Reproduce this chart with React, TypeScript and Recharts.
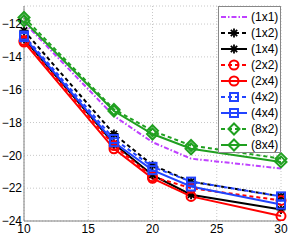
import React from 'react';
import { LineChart, Line, XAxis, YAxis, CartesianGrid } from 'recharts';

const xs = [10, 17, 20, 23, 30];
const s1x1 = [-11.9, -17.6, -19.2, -20.2, -20.8];
const s1x2 = [-12.4, -18.7, -20.6, -21.6, -22.5];
const s1x4 = [-12.9, -19.3, -21.2, -22.4, -23.3];
const s2x2 = [-13.0, -19.4, -21.3, -22.0, -22.75];
const s2x4 = [-13.1, -19.6, -21.4, -22.5, -23.7];
const s4x2 = [-12.7, -19.0, -20.7, -21.6, -22.5];
const s4x4 = [-12.8, -19.2, -20.9, -21.9, -23.0];
const s8x2 = [-11.6, -17.2, -18.5, -19.4, -20.2];
const s8x4 = [-11.8, -17.3, -18.7, -19.6, -20.4];
const xTicks = [10, 15, 20, 25, 30];
const yTicks = [-24, -22, -20, -18, -16, -14, -12];

const data = xs.map((x, i) => ({
  x,
  a: s1x1[i], b: s1x2[i], c: s1x4[i], d: s2x2[i], e: s2x4[i],
  f: s4x2[i], g: s4x4[i], h: s8x2[i], k: s8x4[i],
}));

const PURPLE = '#bf40ff';
const BLACK = '#000000';
const RED = '#ff0000';
const BLUE = '#2244ff';
const GREEN = '#20a020';

type Shape = 'none' | 'star' | 'circle' | 'square' | 'diamond';

const series: { key: string; name: string; color: string; dash?: string; shape: Shape }[] = [
  { key: 'a', name: '(1x1)', color: PURPLE, dash: '5 2 1.5 2', shape: 'none' },
  { key: 'b', name: '(1x2)', color: BLACK, dash: '4 3', shape: 'star' },
  { key: 'c', name: '(1x4)', color: BLACK, shape: 'star' },
  { key: 'd', name: '(2x2)', color: RED, dash: '4 3', shape: 'circle' },
  { key: 'e', name: '(2x4)', color: RED, shape: 'circle' },
  { key: 'f', name: '(4x2)', color: BLUE, dash: '4 3', shape: 'square' },
  { key: 'g', name: '(4x4)', color: BLUE, shape: 'square' },
  { key: 'h', name: '(8x2)', color: GREEN, dash: '4 3', shape: 'diamond' },
  { key: 'k', name: '(8x4)', color: GREEN, shape: 'diamond' },
];

function marker(shape: Shape, color: string, cx: number, cy: number, key?: string) {
  const sw = 2;
  if (shape === 'circle') {
    return <circle key={key} cx={cx} cy={cy} r={4.5} fill="none" stroke={color} strokeWidth={sw} />;
  }
  if (shape === 'square') {
    return <rect key={key} x={cx - 4} y={cy - 4} width={8} height={8} fill="none" stroke={color} strokeWidth={sw} />;
  }
  if (shape === 'diamond') {
    const r = 5.5;
    return (
      <polygon key={key} points={`${cx},${cy - r} ${cx + r},${cy} ${cx},${cy + r} ${cx - r},${cy}`} fill="none" stroke={color} strokeWidth={sw} />
    );
  }
  if (shape === 'star') {
    const r = 4.5;
    const d = r * 0.707;
    return (
      <g key={key} stroke={color} strokeWidth={1.8}>
        <line x1={cx - r} y1={cy} x2={cx + r} y2={cy} />
        <line x1={cx} y1={cy - r} x2={cx} y2={cy + r} />
        <line x1={cx - d} y1={cy - d} x2={cx + d} y2={cy + d} />
        <line x1={cx - d} y1={cy + d} x2={cx + d} y2={cy - d} />
      </g>
    );
  }
  return null;
}

const makeDot = (shape: Shape, color: string) => (props: any) => {
  const { cx, cy, index } = props;
  if (shape === 'none' || cx == null || cy == null) return <g key={`n${index}`} />;
  return marker(shape, color, cx, cy, `m${index}`);
};

const LegendBox = () => (
  <div
    style={{
      position: 'absolute',
      left: 218,
      top: 6,
      width: 63,
      height: 147,
      border: '1px solid #888',
      background: '#fff',
      paddingTop: 2,
      boxSizing: 'border-box',
      fontFamily: '"Liberation Sans", Arial, sans-serif',
      fontSize: 12,
      lineHeight: '16px',
    }}
  >
    {series.map((s) => (
      <div key={s.key} style={{ height: 16, display: 'flex', alignItems: 'center' }}>
        <svg width={30} height={16} style={{ display: 'block' }}>
          <line x1={2} y1={8} x2={28} y2={8} stroke={s.color} strokeWidth={2} strokeDasharray={s.dash} />
          {marker(s.shape, s.color, 15, 8)}
        </svg>
        <span style={{ marginLeft: 2, color: '#000' }}>{s.name}</span>
      </div>
    ))}
  </div>
);

const fmt = (v: number) => (v < 0 ? '\u2212' + Math.abs(v) : String(v));
const tickFont = { fill: '#000', fontSize: 12, fontFamily: '"Liberation Sans", Arial, sans-serif' };

export default function App() {
  return (
    <div style={{ position: 'absolute', left: 0, top: 0, width: 294, height: 240 }}>
      <LineChart width={294} height={240} data={data} margin={{ top: 6, right: 13, bottom: 0, left: 0 }}>
        <CartesianGrid stroke="#c8c8c8" strokeDasharray="1 2" />
        <XAxis
          dataKey="x"
          type="number"
          domain={[10, 30]}
          ticks={xTicks}
          height={19}
          stroke="#808080"
          tickLine={false}
          tickSize={0}
          tick={tickFont}
          tickMargin={3}
        />
        <XAxis xAxisId="top" orientation="top" dataKey="x" type="number" domain={[10, 30]} ticks={xTicks} height={0} stroke="#808080" tick={false} tickLine={false} />
        <YAxis
          type="number"
          domain={[-24, -10.9]}
          ticks={yTicks}
          width={24}
          stroke="#808080"
          tickLine={false}
          tickSize={0}
          tickFormatter={fmt}
          tick={tickFont}
          tickMargin={2}
          allowDataOverflow
        />
        <YAxis yAxisId="right" orientation="right" type="number" domain={[-24, -10.9]} ticks={yTicks} width={0} stroke="#808080" tick={false} tickLine={false} />
        {series.map((s) => (
          <Line
            key={s.key}
            dataKey={s.key}
            name={s.name}
            type="linear"
            stroke={s.color}
            strokeWidth={2}
            strokeDasharray={s.dash}
            dot={makeDot(s.shape, s.color)}
            isAnimationActive={false}
          />
        ))}
      </LineChart>
      <LegendBox />
    </div>
  );
}
